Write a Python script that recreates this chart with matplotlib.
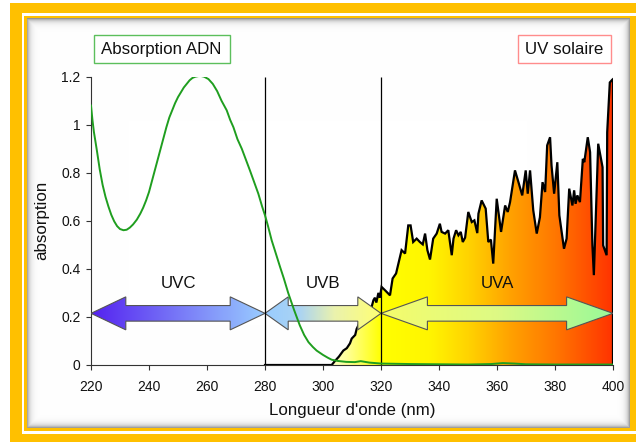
import numpy as np
import matplotlib
matplotlib.use("Agg")
import matplotlib.pyplot as plt
from matplotlib.colors import LinearSegmentedColormap
from matplotlib.patches import PathPatch, Rectangle
from matplotlib.path import Path

plt.rcParams['font.family'] = ['Liberation Sans', 'DejaVu Sans']

# ---------------- data ----------------
dna_nm = [220, 220.5, 221, 222, 223, 224, 225, 226, 227, 228, 229, 230, 231.2,
          232.3, 233.4, 234.5, 235.8, 237, 238, 239, 240, 241, 242, 243, 244,
          245, 246, 247, 248, 249, 250, 251, 252, 253, 254, 255, 256, 257.6,
          259, 260.5, 262, 263.5, 265, 266.8, 268, 269.1, 270.5, 272, 274.8,
          276, 277.7, 279, 280, 281, 282.3, 283.4, 285.2, 286.5, 288, 290, 292,
          293.5, 295, 296.5, 297.8, 300, 301.7, 303, 305, 308, 311, 313, 316,
          320, 330, 340, 350, 358, 362, 366, 370, 380, 390, 400]
dna_val = [1.08, 1.02, 0.97, 0.895, 0.815, 0.75, 0.70, 0.66, 0.625, 0.598, 0.578,
           0.566, 0.561, 0.563, 0.572, 0.585, 0.605, 0.63, 0.655, 0.685, 0.72,
           0.765, 0.81, 0.855, 0.90, 0.945, 0.99, 1.03, 1.06, 1.09, 1.115, 1.135,
           1.155, 1.17, 1.185, 1.195, 1.2, 1.204, 1.2, 1.19, 1.17, 1.14, 1.1,
           1.06, 1.02, 0.99, 0.94, 0.9, 0.81, 0.77, 0.713, 0.66, 0.623, 0.58,
           0.519, 0.477, 0.408, 0.36, 0.30, 0.23, 0.165, 0.125, 0.095, 0.075,
           0.06, 0.042, 0.03, 0.022, 0.017, 0.013, 0.012, 0.016, 0.01, 0.006,
           0.004, 0.003, 0.002, 0.004, 0.008, 0.006, 0.003, 0.002, 0.002, 0.002]

solar_nm = [280, 303, 304, 305.5, 307, 308.2, 309.3, 309.9, 311.1, 311.6, 312.8,
            313.5, 315, 316.5, 317.4, 317.9, 318.4, 319.1, 319.6, 320.2, 321.4,
            323.1, 324, 325.2, 326, 327.1, 328.3, 329.4, 330.2, 331.1, 332.3,
            333.4, 334.4, 335.2, 336, 336.9, 338, 339.2, 340.3, 340.9, 342.1,
            343.2, 344.4, 345, 345.9, 346.7, 347.5, 348.2, 349, 350.1, 351.3,
            352.2, 353.2, 353.6, 354.7, 356.1, 357, 357.9, 358.7, 359.9, 361.4,
            362.8, 363.7, 364.5, 366.2, 367.4, 368.7, 369.9, 370.6, 371.4, 372.5,
            373.7, 374.8, 375.7, 376.6, 377.3, 378.3, 378.8, 379.7, 380.8, 381.5,
            383.1, 384, 384.9, 386, 386.6, 387.1, 387.7, 388.6, 389.6, 390.1,
            391.3, 392.1, 392.9, 393.4, 394.9, 396.4, 396.6, 397.8, 398, 398.9,
            399.8, 400]
solar_val = [0, 0, 0.015, 0.035, 0.06, 0.07, 0.09, 0.11, 0.125, 0.15, 0.18,
             0.19, 0.205, 0.23, 0.27, 0.28, 0.26, 0.30, 0.28, 0.325, 0.311,
             0.29, 0.36, 0.381, 0.422, 0.478, 0.464, 0.581, 0.581, 0.512, 0.526,
             0.512, 0.502, 0.547, 0.478, 0.439, 0.526, 0.547, 0.588, 0.554, 0.547,
             0.561, 0.457, 0.526, 0.561, 0.54, 0.554, 0.512, 0.53, 0.637, 0.595,
             0.602, 0.549, 0.63, 0.685, 0.651, 0.512, 0.522, 0.422, 0.692, 0.554,
             0.664, 0.637, 0.678, 0.81, 0.761, 0.706, 0.81, 0.713, 0.81, 0.644,
             0.547, 0.615, 0.761, 0.72, 0.914, 0.948, 0.831, 0.713, 0.844, 0.623,
             0.484, 0.526, 0.734, 0.664, 0.727, 0.671, 0.706, 0.678, 0.858, 0.844,
             0.948, 0.886, 0.498, 0.374, 0.921, 0.823, 0.498, 0.457, 0.969, 1.176,
             1.188, 1.19]

bands = ['UVC', 'UVB', 'UVA']
band_lo = [220, 280, 320]
band_hi = [280, 320, 400]
band_label_x = [250, 300, 360]

x_ticks = [220, 240, 260, 280, 300, 320, 340, 360, 380, 400]
y_ticks = [0, 0.2, 0.4, 0.6, 0.8, 1.0, 1.2]
y_tick_labels = ['0', '0.2', '0.4', '0.6', '0.8', '1', '1.2']

# ---------------- figure & background frame ----------------
W, H = 636, 442
fig = plt.figure(figsize=(W / 100, H / 100), dpi=100)

yy, xx = np.mgrid[0:H, 0:W] + 0.5
orange = np.array([255, 192, 0]) / 255.0
bg = np.ones((H, W, 3))

def inside(x0, y0, x1, y1):
    return (xx >= x0) & (xx < x1) & (yy >= y0) & (yy < y1)

bg[inside(10, 3.3, 700, 700)] = orange
bg[inside(21.7, 13.3, 700, 434)] = 1.0
bg[inside(23.8, 15.6, 700, 431)] = orange
panel = inside(26.7, 18.3, 630, 428)
d = np.minimum.reduce([xx - 26.7, yy - 18.3, 630 - xx, 428 - yy])
shade = 1 - 0.45 * np.exp(-np.clip(d, 0, None) / 2.8)
bg[panel] = np.stack([shade, shade, shade], axis=-1)[panel]

bax = fig.add_axes([0, 0, 1, 1])
bax.imshow(bg, extent=(0, W, H, 0), aspect='auto', interpolation='nearest')
bax.set_xlim(0, W)
bax.set_ylim(H, 0)
bax.axis('off')

# legend-like boxes
bax.add_patch(Rectangle((93.5, 34.8), 136, 28.5, facecolor='white',
                        edgecolor='#5cbf5c', lw=1.0))
bax.text(161.5, 49.5, 'Absorption ADN', fontsize=12.2, ha='center', va='center',
         color='#111111')
bax.add_patch(Rectangle((517.5, 34.8), 93.5, 28.5, facecolor='white',
                        edgecolor='#ff8c8c', lw=1.0))
bax.text(564.3, 49.5, 'UV solaire', fontsize=12.2, ha='center', va='center',
         color='#111111')

# ---------------- main axes ----------------
ax_l, ax_r, ax_t, ax_b = 91, 613, 76.7, 365
ax = fig.add_axes([ax_l / W, 1 - ax_b / H, (ax_r - ax_l) / W, (ax_b - ax_t) / H])
ax.set_facecolor('none')
ax.set_xlim(220, 400)
ax.set_ylim(0, 1.2)

# solar spectrum gradient fill
verts = list(zip(solar_nm, solar_val)) + [(solar_nm[-1], 0), (solar_nm[0], 0)]
clip = PathPatch(Path(verts), transform=ax.transData, facecolor='none',
                 edgecolor='none')
ax.add_patch(clip)
sol_stops = [(0.0, (1.0, 1.0, 0.88)), (0.08, (1.0, 1.0, 0.6)),
             (0.20, (1.0, 1.0, 0.0)), (0.37, (1.0, 0.96, 0.0)),
             (0.50, (1.0, 0.83, 0.0)), (0.65, (1.0, 0.63, 0.0)),
             (0.80, (1.0, 0.47, 0.0)), (1.0, (1.0, 0.2, 0.0))]
sol_cmap = LinearSegmentedColormap.from_list('sol', sol_stops)
grad = np.linspace(0, 1, 512).reshape(1, -1)
im = ax.imshow(grad, cmap=sol_cmap, extent=(300, 400, 0, 1.2), aspect='auto',
               origin='lower', zorder=1, interpolation='bilinear')
im.set_clip_path(clip)

ax.plot(solar_nm, solar_val, color='black', lw=1.6, zorder=2,
        solid_joinstyle='miter')
ax.vlines(solar_nm[-1], 0, solar_val[-1], color='black', lw=1.6, zorder=2)

# band arrows
px_per_val = (ax_b - ax_t) / 1.2
yc = 0.215
hh = 16.5 / px_per_val
sh = 7.8 / px_per_val
arrow_cols = [
    [(0.0, (0.33, 0.13, 0.94)), (0.5, (0.47, 0.47, 0.97)), (1.0, (0.6, 0.8, 1.0))],
    [(0.0, (0.6, 0.8, 1.0)), (0.3, (0.67, 0.83, 0.95)), (0.6, (0.92, 0.95, 0.68)),
     (1.0, (1.0, 1.0, 0.45))],
    [(0.0, (0.96, 0.99, 0.42)), (0.5, (0.87, 0.98, 0.52)), (1.0, (0.6, 0.98, 0.6))],
]
for lo, hi, cols, name, lx in zip(band_lo, band_hi, arrow_cols, bands, band_label_x):
    hl = 0.2 * (hi - lo)
    v = [(lo, yc), (lo + hl, yc + hh), (lo + hl, yc + sh), (hi - hl, yc + sh),
         (hi - hl, yc + hh), (hi, yc), (hi - hl, yc - hh), (hi - hl, yc - sh),
         (lo + hl, yc - sh), (lo + hl, yc - hh), (lo, yc)]
    p = PathPatch(Path(v, closed=True), transform=ax.transData, facecolor='none',
                  edgecolor='#555555', lw=0.8, zorder=4)
    ax.add_patch(p)
    cm = LinearSegmentedColormap.from_list(name, cols)
    ai = ax.imshow(grad, cmap=cm, extent=(lo, hi, yc - hh, yc + hh), aspect='auto',
                   origin='lower', zorder=3.5, interpolation='bilinear')
    ai.set_clip_path(p)
    ax.text(lx, 0.34, name, fontsize=12.2, ha='center', va='center', color='#111111')

# band boundaries
ax.vlines([280, 320], 0, 1.2, color='black', lw=0.9, zorder=5)

# DNA absorption
ax.plot(dna_nm, dna_val, color='#1f9e1f', lw=1.4, zorder=6)

ax.set_xlim(220, 400)
ax.set_ylim(0, 1.2)
for s in ['top', 'right']:
    ax.spines[s].set_visible(False)
for s in ['left', 'bottom']:
    ax.spines[s].set_color('#333333')
    ax.spines[s].set_linewidth(0.8)
ax.set_xticks(x_ticks)
ax.set_yticks(y_ticks)
ax.set_yticklabels(y_tick_labels)
ax.tick_params(axis='both', direction='out', length=3.5, width=0.8,
               color='#333333', labelsize=10, labelcolor='#111111')
ax.tick_params(axis='x', pad=7)
ax.tick_params(axis='y', pad=4)
ax.set_xlabel("Longueur d'onde (nm)", fontsize=12.2, color='#111111', va='center')
ax.xaxis.set_label_coords(0.5, -(411 - ax_b) / (ax_b - ax_t))
ax.set_ylabel('absorption', fontsize=12.2, color='#111111', va='center')
ax.yaxis.set_label_coords((41.7 - ax_l) / (ax_r - ax_l), 0.5)

fig.savefig('out.png', dpi=100)
